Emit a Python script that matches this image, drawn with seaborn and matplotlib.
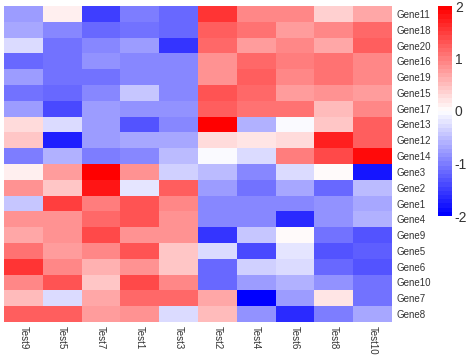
import numpy as np
import pandas as pd
import matplotlib
matplotlib.use("Agg")
import matplotlib.pyplot as plt
import seaborn as sns
from matplotlib.colors import LinearSegmentedColormap

genes = ["Gene11", "Gene18", "Gene20", "Gene16", "Gene19", "Gene15", "Gene17",
         "Gene13", "Gene12", "Gene14", "Gene3", "Gene2", "Gene1", "Gene4",
         "Gene9", "Gene5", "Gene6", "Gene10", "Gene7", "Gene8"]
tests = ["Test9", "Test5", "Test7", "Test1", "Test3",
         "Test2", "Test4", "Test6", "Test8", "Test10"]

# values (scaled expression)
gene11 = [-0.8, 0.1, -1.5, -1.0, -1.2, 1.55, 0.9, 0.95, 0.35, 0.65]
gene18 = [-0.65, -0.9, -1.2, -1.1, -1.15, 1.2, 1.1, 0.75, 0.95, 1.15]
gene20 = [-0.3, -1.1, -0.9, -0.75, -1.55, 1.15, 0.75, 0.9, 0.7, 1.25]
gene16 = [-1.2, -1.05, -0.85, -0.95, -0.9, 0.8, 1.15, 1.0, 1.1, 0.95]
gene19 = [-0.8, -1.05, -1.1, -0.9, -0.95, 0.8, 1.25, 0.9, 1.05, 0.95]
gene15 = [-1.1, -1.15, -0.9, -0.45, -0.95, 1.3, 1.15, 0.75, 0.85, 0.75]
gene17 = [-0.75, -1.4, -0.8, -0.85, -0.85, 1.2, 1.05, 1.05, 0.5, 0.9]
gene13 = [0.25, -0.3, -0.75, -1.3, -0.95, 2.0, -0.6, -0.05, 0.45, 1.2]
gene12 = [0.45, -1.75, -0.8, -0.7, -0.7, 0.25, 0.2, 0.25, 1.7, 1.25]
gene14 = [-1.0, -0.6, -1.0, -0.95, -0.5, -0.05, -0.3, 1.0, 1.4, 1.85]
gene3 = [0.1, 0.75, 2.0, 0.8, -0.4, -0.55, -0.9, -0.25, 0.05, -1.8]
gene2 = [0.85, 0.45, 1.8, -0.2, 1.25, -0.8, -1.1, -0.7, -1.15, -0.5]
gene1 = [-0.45, 1.45, 1.0, 1.3, 0.95, -0.9, -0.9, -0.95, -0.85, -0.7]
gene4 = [0.8, 0.85, 1.15, 1.3, 0.8, -0.95, -0.9, -1.6, -0.85, -0.6]
gene9 = [0.7, 0.85, 1.4, 0.8, 0.8, -1.55, -0.45, 0.05, -1.1, -1.3]
gene5 = [1.1, 0.75, 0.9, 1.3, 0.45, -0.3, -1.4, -0.2, -1.3, -1.25]
gene6 = [1.55, 0.95, 0.6, 0.85, 0.45, -1.2, -0.35, -0.25, -1.15, -1.35]
gene10 = [0.9, 1.3, 0.45, 1.4, 0.95, -1.2, -0.75, -0.6, -0.85, -1.05]
gene7 = [0.5, -0.3, 0.7, 1.15, 1.15, 0.7, -2.0, -0.75, 0.2, -1.05]
gene8 = [1.2, 1.25, 0.75, 0.8, -0.3, 0.5, -0.85, -1.6, -1.0, -0.7]

rows = [gene11, gene18, gene20, gene16, gene19, gene15, gene17, gene13, gene12,
        gene14, gene3, gene2, gene1, gene4, gene9, gene5, gene6, gene10, gene7, gene8]
df = pd.DataFrame(rows, index=genes, columns=tests)

plt.rcParams["font.family"] = ["Liberation Sans", "DejaVu Sans"]
plt.rcParams["axes.unicode_minus"] = False

cmap = LinearSegmentedColormap.from_list("bwr2", ["#0000ff", "#ffffff", "#ff0000"], N=50)

fig = plt.figure(figsize=(4.74, 3.58), dpi=100)
ax = fig.add_axes([4/474, 1 - 322/358, 388/474, 316/358])
cax = fig.add_axes([438/474, 1 - 216/358, 14/474, 210/358])

sns.heatmap(df, ax=ax, cmap=cmap, vmin=-2, vmax=2, cbar_ax=cax,
            linewidths=0, cbar_kws={"ticks": [-2, -1, 0, 1, 2]})

ax.yaxis.tick_right()
ax.set_yticklabels(genes, rotation=0, fontsize=7, color="#333333")
ax.set_xticklabels(tests, rotation=-90, fontsize=7, color="#333333")
ax.tick_params(length=0, pad=3)
ax.set_xlabel("")
ax.set_ylabel("")

cax.tick_params(length=0, labelsize=10, colors="#333333", pad=2)
for sp in cax.spines.values():
    sp.set_visible(False)

fig.savefig("out.png", dpi=100)
